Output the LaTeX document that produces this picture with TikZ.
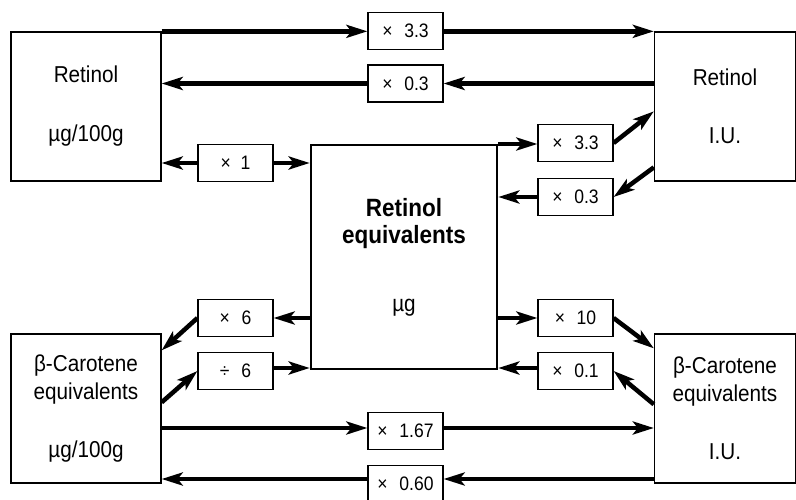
\documentclass[tikz,border=0pt]{standalone}
\usepackage{fontspec}
\setmainfont{Liberation Sans}[FakeStretch=0.9]
\usetikzlibrary{arrows.meta,calc}
\begin{document}
\begin{tikzpicture}[x=1pt,y=-1pt,
  big/.style={draw, line width=1.3pt, minimum width=150pt, minimum height=149pt, inner sep=0pt, align=center, font=\fontsize{23}{28}\selectfont},
  mult/.style={draw, line width=1.2pt, minimum width=75pt, minimum height=37pt, inner sep=0pt, font=\fontsize{19.5}{22}\selectfont},
  arr/.style={line width=4.5pt, -{Stealth[length=21pt,width=13pt,inset=5pt]}},
  centre/.style={draw, line width=2.5pt, minimum width=186pt, minimum height=224pt, inner sep=0pt, align=center, font=\fontsize{23}{27}\selectfont}
]
\useasboundingbox (0,0) rectangle (796,500);
% large boxes
\node[big] (LR) at (86,106.5) {Retinol\\[31pt]µg/100g};
\node[big, minimum width=141pt] (RR) at (725,106.5) {Retinol\\[30pt]I.U.};
\node[big] (LB) at (86,408.5) {β-Carotene\\equivalents\\[30pt]µg/100g};
\node[big, minimum width=141pt] (RB) at (725,408.5) {β-Carotene\\equivalents\\[30pt]I.U.};
\node[centre] (C) at (404,257) {{\fontsize{25}{27}\selectfont\bfseries Retinol}\\{\fontsize{25}{27}\selectfont\bfseries equivalents}\\[41pt]µg};
% factor boxes
\node[mult] (a1) at (405.5,31) {×\hspace{0.6em}3.3};
\node[mult] (a2) at (405.5,83.5) {×\hspace{0.6em}0.3};
\node[mult] (a3) at (235.5,163) {×\hspace{0.5em}1};
\node[mult] (a4) at (575.5,143) {×\hspace{0.6em}3.3};
\node[mult] (a5) at (575.5,197) {×\hspace{0.6em}0.3};
\node[mult] (a6) at (235.5,318) {×\hspace{0.6em}6};
\node[mult] (a7) at (235.5,371) {÷\hspace{0.6em}6};
\node[mult] (a8) at (575.5,318) {×\hspace{0.6em}10};
\node[mult] (a9) at (575.5,371) {×\hspace{0.6em}0.1};
\node[mult] (a10) at (405.5,431) {×\hspace{0.6em}1.67};
\node[mult] (a11) at (405.5,484) {×\hspace{0.6em}0.60};
% connectors
\draw[arr] (LR.north east) -- (LR.north east -| a1.west);
\draw[arr] (a1.east |- RR.north west) -- (RR.north west);
\draw[arr] (a2.east -| RR.west) -- (a2.east);
\draw[arr] (a2.west) -- (a2.west -| LR.east);
\draw[arr] (a3.west) -- (a3.west -| LR.east);
\draw[arr] (a3.east) -- (a3.east -| C.west);
\draw[arr] ([yshift=-1pt]a4.west -| C.east) -- ([yshift=-1pt]a4.west);
\draw[arr] (a4.east) -- ($(RR.north west)+(0,80)$);
\draw[arr] ($(RR.north west)+(0,136)$) -- (a5.east);
\draw[arr] (a5.west) -- (a5.west -| C.east);
\draw[arr] (a6.east -| C.west) -- (a6.east);
\draw[arr] (a6.west) -- ($(LB.north east)+(0,17)$);
\draw[arr] ($(LB.north east)+(0,69)$) -- (a7.west);
\draw[arr] ([yshift=3pt]a7.east) -- ([yshift=3pt]a7.east -| C.west);
\draw[arr] (a8.west -| C.east) -- (a8.west);
\draw[arr] (a8.east) -- ($(RB.north west)+(0,15)$);
\draw[arr] ($(RB.north west)+(0,71)$) -- (a9.east);
\draw[arr] ([yshift=3pt]a9.west) -- ([yshift=3pt]a9.west -| C.east);
\draw[arr] ([yshift=3pt]a10.west -| LB.east) -- ([yshift=3pt]a10.west);
\draw[arr] ([yshift=3pt]a10.east) -- ([yshift=3pt]a10.east -| RB.west);
\draw[arr] ([yshift=5pt]a11.east -| RB.west) -- ([yshift=5pt]a11.east);
\draw[arr] ([yshift=5pt]a11.west) -- ([yshift=5pt]a11.west -| LB.east);
\end{tikzpicture}
\end{document}
